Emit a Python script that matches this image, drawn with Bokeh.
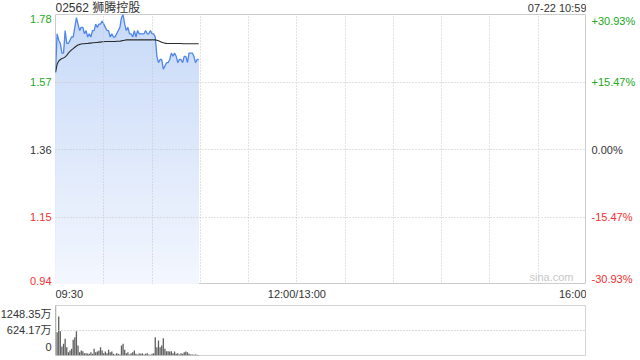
from bokeh.plotting import figure
from bokeh.layouts import column, row
from bokeh.models import Range1d, FixedTicker, Label, Grid, ColumnDataSource
from bokeh.embed import file_html
from bokeh.resources import INLINE
from bokeh.core.properties import value
import numpy as np

# ---------------- data ----------------
stock_title = "02562 狮腾控股"
timestamp = "07-22 10:59"
prev_close = 1.36
price_ticks = [1.78, 1.57, 1.36, 1.15, 0.94]
price_tick_labels = ["1.78", "1.57", "1.36", "1.15", "0.94"]
pct_tick_labels = ["+30.93%", "+15.47%", "0.00%", "-15.47%", "-30.93%"]
session_minutes = 330                     # 09:30-12:00 + 13:00-16:00
time_label_pos = [0, 150, 330]
time_labels = ["09:30", "12:00/13:00", "16:00"]
grid_minutes = [30, 60, 90, 120, 150, 180, 210, 240, 270, 300]
vol_ticks = [1248.35, 624.17, 0]
vol_tick_labels = ["1248.35万", "624.17万", "0"]

price = [1.60, 1.72, 1.70, 1.69, 1.66, 1.66, 1.73, 1.69, 1.69, 1.70,
         1.71, 1.71, 1.74, 1.77, 1.75, 1.73, 1.74, 1.74, 1.72, 1.73,
         1.71, 1.72, 1.71, 1.73, 1.73, 1.75, 1.74, 1.75, 1.75, 1.76,
         1.75, 1.74, 1.73, 1.73, 1.71, 1.72, 1.71, 1.71, 1.72, 1.73,
         1.74, 1.77, 1.78, 1.75, 1.73, 1.74, 1.72, 1.72, 1.71, 1.73,
         1.71, 1.73, 1.72, 1.72, 1.72, 1.72, 1.73, 1.72, 1.72, 1.73,
         1.72, 1.72, 1.71, 1.65, 1.63, 1.64, 1.64, 1.61, 1.62, 1.63,
         1.63, 1.64, 1.66, 1.65, 1.66, 1.65, 1.63, 1.64, 1.64, 1.63,
         1.65, 1.65, 1.63, 1.66, 1.66, 1.66, 1.65, 1.63, 1.64, 1.64]

avg_price = [1.600, 1.625, 1.635, 1.640, 1.643, 1.645, 1.648, 1.653, 1.660, 1.665,
             1.670, 1.674, 1.678, 1.682, 1.685, 1.687, 1.688, 1.689, 1.689, 1.690,
             1.690, 1.691, 1.691, 1.692, 1.692, 1.693, 1.693, 1.694, 1.694, 1.695,
             1.695, 1.696, 1.696, 1.696, 1.696, 1.696, 1.696, 1.696, 1.697, 1.697,
             1.697, 1.698, 1.699, 1.700, 1.701, 1.701, 1.701, 1.701, 1.701, 1.701,
             1.701, 1.701, 1.701, 1.701, 1.701, 1.701, 1.701, 1.701, 1.701, 1.701,
             1.701, 1.701, 1.701, 1.700, 1.698, 1.696, 1.694, 1.692, 1.691, 1.690,
             1.690, 1.690, 1.690, 1.690, 1.690, 1.690, 1.690, 1.690, 1.690, 1.689,
             1.689, 1.689, 1.689, 1.689, 1.689, 1.689, 1.689, 1.689, 1.689, 1.689]

volume = [1248.35, 582, 973, 607, 225, 291, 416, 208, 83, 125,
          166, 391, 458, 607, 250, 83, 125, 108, 58, 58,
          50, 42, 83, 42, 166, 83, 100, 125, 208, 125,
          58, 100, 58, 141, 83, 100, 42, 25, 58, 42,
          25, 250, 291, 141, 58, 83, 25, 58, 83, 125,
          42, 25, 58, 42, 58, 25, 42, 58, 25, 17,
          42, 58, 458, 208, 374, 208, 250, 433, 166, 108,
          108, 100, 108, 58, 100, 42, 58, 25, 58, 42,
          83, 100, 83, 42, 25, 25, 17, 25, 17, 12]

minutes = list(range(len(price)))

# ---------------- style / layout sizes ----------------
FONT = "Liberation Sans, Noto Sans CJK SC, sans-serif"
GREEN = "#21a821"
RED = "#f03030"
DARK = "#333333"
GRID = "#c4c4c4"
BORDER = "#cccccc"
LINE_BLUE = "#4f86ec"

LEFT_W, PLOT_W, RIGHT_W = 55, 531, 54
TITLE_H, PRICE_H, TIME_H = 14, 270, 18
VOL_H, VOL_TOP, VOL_BOTTOM = 58, 3, 5

y_lo, y_hi = min(price_ticks), max(price_ticks)
xr = Range1d(0, session_minutes)
yr = Range1d(y_lo, y_hi)
vyr = Range1d(0, max(vol_ticks))

# side panels span title + chart + time rows; extend their scale to the same px/unit
k = (y_hi - y_lo) / PRICE_H
side_yr = Range1d(y_lo - TIME_H * k, y_hi + TITLE_H * k)
vol_frame = VOL_H - VOL_TOP - VOL_BOTTOM
kv = max(vol_ticks) / vol_frame
vside_yr = Range1d(-VOL_BOTTOM * kv, max(vol_ticks) + VOL_TOP * kv)


def blank(width, height, x_range, y_range, left=0, right=0, top=0, bottom=0):
    f = figure(width=width, height=height, output_backend="svg", toolbar_location=None,
               x_axis_location=None, y_axis_location=None, x_range=x_range, y_range=y_range,
               min_border_left=left, min_border_right=right,
               min_border_top=top, min_border_bottom=bottom)
    for g in f.grid:
        g.visible = False
    f.outline_line_color = None
    f.background_fill_color = "white"
    f.border_fill_color = "white"
    return f


def tick_color(v):
    if v > prev_close + 1e-9:
        return GREEN
    if v < prev_close - 1e-9:
        return RED
    return DARK


def txt(f, xs, ys, texts, colors, align, baseline, x_off=0, size="11px"):
    src = ColumnDataSource(dict(x=xs, y=ys, t=texts, c=colors))
    f.text(x="x", y="y", text="t", text_color="c", source=src, text_align=align,
           text_baseline=baseline, x_offset=x_off,
           text_font=value(FONT), text_font_size=size)


# ---------------- title row ----------------
title_fig = blank(PLOT_W, TITLE_H, xr, Range1d(0, 1))
txt(title_fig, [0], [0.5], [stock_title], [DARK], "left", "middle", size="12px")
txt(title_fig, [session_minutes], [0.5], [timestamp], [DARK], "right", "middle")

# ---------------- price chart ----------------
p = blank(PLOT_W, PRICE_H, xr, yr)
p.outline_line_color = BORDER

top_rgb = np.array([0xc8, 0xda, 0xf8])
bot_rgb = np.array([0xf4, 0xf7, 0xfe])
n_bands = 40
pr = np.array(price)
for i in range(n_bands):
    frac = 1 - i / n_bands
    hi = y_lo + (y_hi - y_lo) * frac
    c = bot_rgb + (top_rgb - bot_rgb) * frac
    col = "#%02x%02x%02x" % tuple(int(round(v)) for v in c)
    p.varea(x=minutes, y1=[y_lo] * len(minutes), y2=list(np.minimum(pr, hi)),
            fill_color=col, fill_alpha=1.0)

p.add_layout(Grid(dimension=0, ticker=FixedTicker(ticks=grid_minutes),
                  grid_line_color=GRID, grid_line_dash="1 2", level="annotation"))
p.add_layout(Grid(dimension=1, ticker=FixedTicker(ticks=price_ticks[1:-1]),
                  grid_line_color=GRID, grid_line_dash="1 2", level="annotation"))

p.line(minutes, price, line_color=LINE_BLUE, line_width=1.3)
p.line(minutes, avg_price, line_color="#2a2a2a", line_width=1.1)

p.add_layout(Label(x=session_minutes, y=y_lo, x_offset=-13, y_offset=2, text="sina.com",
                   text_align="right", text_baseline="bottom", text_font="Liberation Sans",
                   text_font_size="11px", text_color="#c8c8c8"))

# ---------------- time label row ----------------
time_fig = blank(PLOT_W, TIME_H, xr, Range1d(0, 1))
for pos, t, al in zip(time_label_pos, time_labels, ["left", "center", "right"]):
    txt(time_fig, [pos], [0.5], [t], [DARK], al, "middle")

# ---------------- side label panels (price scale) ----------------
side_h = TITLE_H + PRICE_H + TIME_H
left_fig = blank(LEFT_W, side_h, Range1d(0, 1), side_yr)
right_fig = blank(RIGHT_W, side_h, Range1d(0, 1), side_yr)
cols = [tick_color(v) for v in price_ticks]
groups = [(slice(0, 1), "top"), (slice(1, 4), "middle"), (slice(4, 5), "bottom")]
for sl, base in groups:
    n = len(price_ticks[sl])
    txt(left_fig, [1] * n, price_ticks[sl], price_tick_labels[sl], cols[sl], "right", base, x_off=-4)
    txt(right_fig, [0] * n, price_ticks[sl], pct_tick_labels[sl], cols[sl], "left", base, x_off=5)

# ---------------- volume ----------------
v = blank(PLOT_W, VOL_H, xr, vyr, top=VOL_TOP, bottom=VOL_BOTTOM)
v.outline_line_color = "#d4d4d4"
v.add_layout(Grid(dimension=1, ticker=FixedTicker(ticks=vol_ticks[:2]),
                  grid_line_color="#b8b8b8", grid_line_dash="1 2", level="annotation"))
v.vbar(x=minutes, top=volume, width=0.8, fill_color="#5e5e5e", line_color=None)

vleft = blank(LEFT_W, VOL_H, Range1d(0, 1), vside_yr)
vgroups = [(slice(0, 1), "top"), (slice(1, 2), "middle"), (slice(2, 3), "bottom")]
for sl, base in vgroups:
    n = len(vol_ticks[sl])
    txt(vleft, [1] * n, vol_ticks[sl], vol_tick_labels[sl], [DARK] * n, "right", base, x_off=-4)

upper = row(left_fig, column(title_fig, p, time_fig, spacing=0), right_fig, spacing=0)
lower = row(vleft, v, spacing=0)
layout = column(upper, lower, spacing=0)
open("out.html", "w").write(file_html(layout, INLINE))
